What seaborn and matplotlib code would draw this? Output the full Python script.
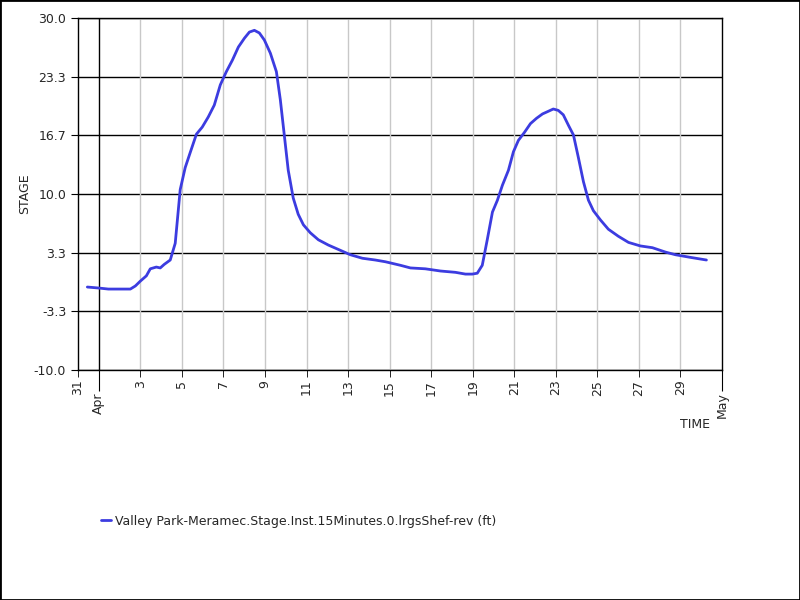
import pandas as pd
import numpy as np
import matplotlib
matplotlib.use("Agg")
import matplotlib.pyplot as plt
import matplotlib.dates as mdates
import matplotlib.patches as patches
import seaborn as sns

# Stage readings: days since Mar 31 00:00 and stage in feet
days = [0.45, 0.98, 1.46, 2.52, 2.76, 3.00, 3.29, 3.48, 3.77, 3.96, 4.15, 4.44,
        4.68, 4.92, 5.16, 5.40, 5.70, 5.98, 6.27, 6.56, 6.85, 7.14, 7.43, 7.72,
        8.01, 8.25, 8.49, 8.73, 8.97, 9.26, 9.55, 9.74, 9.93, 10.12, 10.36, 10.60,
        10.85, 11.18, 11.57, 12.05, 12.63, 13.11, 13.69, 14.31, 14.80, 15.52, 16.00,
        16.72, 17.45, 18.17, 18.65, 18.98, 19.22, 19.46, 19.70, 19.95, 20.19, 20.43,
        20.72, 20.96, 21.20, 21.49, 21.78, 22.07, 22.36, 22.64, 22.88, 23.12, 23.36,
        23.61, 23.85, 24.09, 24.33, 24.57, 24.81, 25.15, 25.53, 26.01, 26.50, 27.07,
        27.65, 28.28, 28.76, 29.48, 30.25]
stage = [-0.57, -0.68, -0.8, -0.8, -0.45, 0.1, 0.7, 1.5, 1.7, 1.6, 2.0, 2.5,
         4.4, 10.5, 13.0, 14.7, 16.8, 17.6, 18.75, 20.1, 22.4, 23.9, 25.2, 26.7,
         27.7, 28.4, 28.6, 28.3, 27.5, 26.0, 23.9, 20.7, 16.7, 12.7, 9.55, 7.7,
         6.5, 5.6, 4.8, 4.2, 3.6, 3.1, 2.7, 2.5, 2.3, 1.9, 1.6,
         1.5, 1.25, 1.1, 0.9, 0.9, 1.0, 1.9, 4.8, 7.95, 9.3, 11.0,
         12.7, 14.8, 16.1, 17.0, 18.0, 18.6, 19.1, 19.4, 19.66, 19.5, 19.0,
         17.8, 16.7, 14.1, 11.4, 9.3, 8.1, 7.05, 6.0, 5.2, 4.5, 4.1,
         3.9, 3.4, 3.1, 2.8, 2.5]

y_ticks = [-10.0, -3.3, 3.3, 10.0, 16.7, 23.3, 30.0]
day_labels = ["31", "3", "5", "7", "9", "11", "13", "15", "17", "19", "21",
              "23", "25", "27", "29"]
month_labels = ["Apr", "May"]
series_name = "Valley Park-Meramec.Stage.Inst.15Minutes.0.lrgsShef-rev (ft)"

start = pd.Timestamp("2022-03-31")
df = pd.DataFrame({"time": start + pd.to_timedelta(days, unit="D"), "stage": stage})

sns.set_style("white")
plt.rcParams["font.family"] = ["DejaVu Sans"]

fig = plt.figure(figsize=(8, 6), dpi=100)
ax = fig.add_axes([0.0975, 0.3833, 0.805, 0.5867])

sns.lineplot(data=df, x="time", y="stage", ax=ax, color="#3c3ce0", linewidth=2,
             label=series_name, legend=False)

ax.set_xlim(start, pd.Timestamp("2022-05-01"))
ax.set_ylim(-10, 30)

# y axis
ax.set_yticks(y_ticks)
ax.set_yticklabels([f"{v:.1f}" for v in y_ticks], fontsize=9)
ax.tick_params(axis="y", length=5, color="black", direction="out", left=True)
for v in y_ticks:
    ax.axhline(v, color="black", linewidth=1, zorder=1)

# x axis: odd days as minor ticks, month starts as major ticks
minor_dates = [start] + [pd.Timestamp(f"2022-04-{d:02d}") for d in range(3, 31, 2)]
major_dates = [pd.Timestamp("2022-04-01"), pd.Timestamp("2022-05-01")]
ax.set_xticks(major_dates)
ax.set_xticklabels(month_labels, rotation=90, fontsize=9)
ax.set_xticks(minor_dates, minor=True)
ax.set_xticklabels(day_labels, minor=True, rotation=90, fontsize=9)
ax.tick_params(axis="x", which="major", length=15, color="black", bottom=True, pad=1)
ax.tick_params(axis="x", which="minor", length=5, color="black", bottom=True, pad=2)
for d in minor_dates[1:]:
    ax.axvline(d, color="#c8c8c8", linewidth=1, zorder=1)
ax.axvline(major_dates[0], color="black", linewidth=1, zorder=1)

for s in ax.spines.values():
    s.set_color("black")
    s.set_linewidth(1)

ax.set_ylabel("STAGE", fontsize=9, labelpad=2)
ax.set_xlabel("TIME", fontsize=9)
ax.xaxis.set_label_coords(0.958, -0.135)

fig.legend(loc="center left", bbox_to_anchor=(0.112, 1 - 521 / 600), frameon=False,
           fontsize=9, handlelength=0.8, handletextpad=0.3)

fig.patches.append(patches.Rectangle((0, 0), 1, 1, transform=fig.transFigure,
                                     fill=False, edgecolor="black", linewidth=2))

fig.savefig("out.png", dpi=100, facecolor="white")
